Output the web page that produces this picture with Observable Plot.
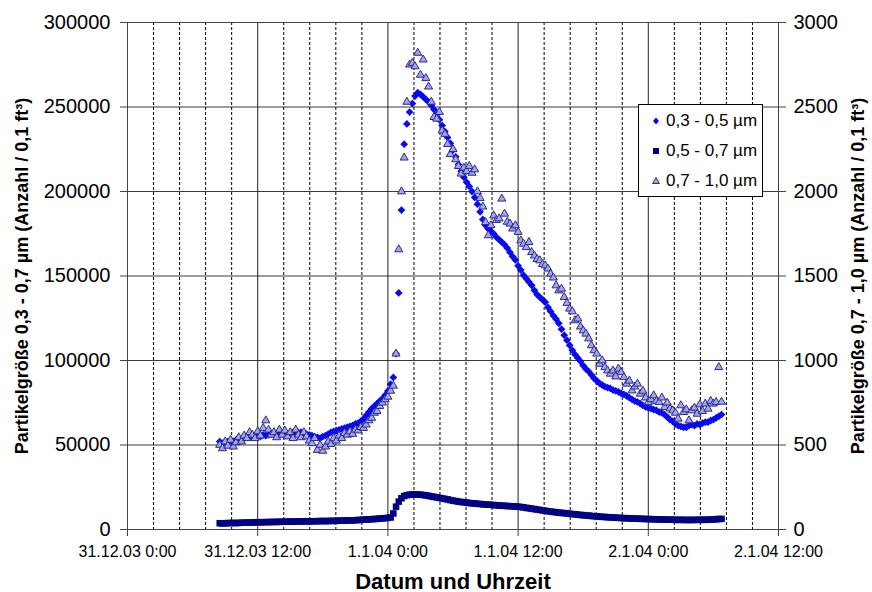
<!DOCTYPE html>
<html>
<head>
<meta charset="utf-8">
<script src="https://cdn.jsdelivr.net/npm/d3@7"></script>
<script src="https://cdn.jsdelivr.net/npm/@observablehq/plot@0.6"></script>
<style>
  html, body { margin: 0; padding: 0; background: #fff; }
  #wrap { position: relative; width: 872px; height: 592px; font-family: 'Liberation Sans', Arial, sans-serif; }
  #legend { position: absolute; left: 638px; top: 104px; width: 125px; height: 93px; border: 1px solid #000; background: #fff; box-sizing: border-box; }
  .item { position: absolute; left: 0; height: 20px; width: 124px; }
  .item svg { position: absolute; left: 10px; top: 3px; }
  .item span { position: absolute; left: 27px; top: 0; font-size: 17px; line-height: 20px; color: #000; white-space: nowrap; }
</style>
</head>
<body>
<div id="wrap"></div>
<script>
// ---- Data ----
// Measurements every 15 minutes, starting 31.12.03 8:30
const startTime = Date.UTC(2003, 11, 31, 8, 30);
const stepMinutes = 15;

const seriesNames = ["0,3 - 0,5 µm", "0,5 - 0,7 µm", "0,7 - 1,0 µm"];

// 0,3 - 0,5 µm (left axis)
const small = [
  52000, 51000, 51500, 52000,
  52500, 52000, 53000, 53500,
  53000, 54000, 54500, 55000,
  54500, 55500, 55500, 55000,
  56000, 55500, 56000, 56500,
  56000, 56500, 56000, 56500,
  57000, 56500, 57000, 57500,
  57000, 57500, 57500, 57000,
  56500, 56000, 55500, 55000,
  54500, 54000, 55000, 55500,
  56500, 57500, 58000, 58500,
  59000, 59500, 60000, 60500,
  61000, 61500, 62500, 63000,
  64000, 65500, 67500, 69500,
  71500, 73000, 74500, 76000,
  77500, 79500, 82000, 86000,
  90000, 104000, 140000, 189000,
  228000, 240000, 247000, 252000,
  256500, 258500, 257500, 256000,
  254500, 253000, 251000, 248500,
  245500, 242500, 239000, 235500,
  232000, 228500, 224500, 220500,
  216000, 212000, 208500, 205500,
  203000, 200000, 196500, 192500,
  188000, 183500, 180000, 178000,
  176500, 175000, 173000, 171500,
  170000, 168500, 166500, 164000,
  161500, 159500, 156000, 153500,
  150500, 148500, 146500, 144500,
  141500, 139000, 137500, 136000,
  134500, 131500, 129000, 126500,
  124500, 122000, 118500, 115000,
  112000, 109000, 106000, 103500,
  101500, 99500, 97000, 95000,
  93500, 91500, 89500, 88000,
  86500, 85500, 84500, 84000,
  83500, 82500, 82000, 81500,
  80500, 80000, 79000, 78000,
  77000, 76000, 75500, 74500,
  73500, 72500, 72000, 71500,
  71000, 70500, 69500, 69000,
  68000, 66500, 65000, 64000,
  62500, 61500, 61000, 60500,
  60500, 61500, 62000, 61500,
  62500, 62000, 63000, 63500,
  63500, 64500, 65000, 66000,
  67000, 68000
];

// 0,5 - 0,7 µm (left axis)
const medium = [
  3700, 3600, 3700, 3800,
  3800, 3900, 3800, 3900,
  4000, 4000, 4100, 4100,
  4200, 4200, 4300, 4300,
  4300, 4400, 4400, 4400,
  4500, 4500, 4500, 4600,
  4600, 4600, 4700, 4700,
  4700, 4800, 4800, 4800,
  4900, 4800, 4900, 4900,
  4900, 5000, 5000, 5000,
  5000, 5100, 5100, 5100,
  5200, 5200, 5300, 5300,
  5400, 5400, 5500, 5600,
  5700, 5800, 5900, 6000,
  6100, 6200, 6300, 6500,
  6600, 6700, 6900, 7100,
  9500, 13500, 16500, 18500,
  19800, 20300, 20600, 20700,
  20800, 20700, 20600, 20400,
  20200, 19900, 19600, 19300,
  19000, 18700, 18400, 18100,
  17800, 17400, 17100, 16800,
  16500, 16300, 16100, 15900,
  15700, 15500, 15400, 15200,
  15100, 14900, 14800, 14700,
  14600, 14500, 14300, 14200,
  14100, 14000, 13900, 13800,
  13700, 13600, 13500, 13300,
  13100, 12800, 12600, 12300,
  12100, 11800, 11600, 11300,
  11100, 10800, 10600, 10400,
  10200, 10000, 9800, 9700,
  9500, 9300, 9100, 9000,
  8800, 8600, 8500, 8300,
  8200, 8000, 7900, 7800,
  7600, 7500, 7400, 7300,
  7200, 7100, 7000, 6900,
  6800, 6700, 6700, 6600,
  6500, 6500, 6400, 6300,
  6300, 6200, 6200, 6100,
  6100, 6000, 6000, 5900,
  5900, 5800, 5800, 5800,
  5700, 5700, 5700, 5700,
  5600, 5700, 5600, 5700,
  5700, 5700, 5800, 5700,
  5800, 5900, 5900, 6100,
  6200, 6300
];

// 0,7 - 1,0 µm (right axis)
const large = [
  500, 480, 520, 495,
  530, 490, 515, 545,
  520, 555, 540, 575,
  560, 540, 580, 555,
  600, 645, 590, 560,
  575, 545, 590, 560,
  585, 550, 575, 540,
  590, 560, 545, 575,
  550, 525, 510, 540,
  470, 500, 465, 490,
  520, 505, 540, 525,
  555, 540, 570, 560,
  580, 565, 590, 585,
  605, 600, 620, 645,
  660, 690, 700, 730,
  750, 770, 785, 820,
  850, 1040, 1657, 2000,
  2200, 2530, 2750, 2760,
  2740, 2820, 2690, 2780,
  2670, 2620, 2530, 2440,
  2430, 2470, 2360, 2340,
  2280, 2220, 2250, 2190,
  2150, 2105, 2140, 2120,
  2150, 2110, 2130, 2000,
  1960, 1910, 1818, 1740,
  1800, 1858, 1830, 1840,
  1957, 1868, 1820, 1809,
  1780, 1799, 1760, 1710,
  1690, 1670, 1700, 1641,
  1620, 1600, 1592, 1570,
  1562, 1543, 1513, 1490,
  1444, 1414, 1424, 1375,
  1340, 1306, 1290, 1237,
  1247, 1200, 1177, 1158,
  1130, 1089, 1060, 1040,
  980, 1000, 960, 940,
  921, 940, 905, 951,
  930, 901, 862, 880,
  822, 845, 862, 803,
  820, 780, 753, 770,
  793, 760, 753, 780,
  724, 750, 715, 704,
  690, 655, 734, 694,
  710, 645, 704, 720,
  684, 740, 700, 744,
  714, 760, 744, 753,
  960, 755
];

// Axes
const xStart = new Date(Date.UTC(2003, 11, 31, 0, 0));
const xEnd = new Date(Date.UTC(2004, 0, 2, 12, 0));
const xTicks = [
  new Date(Date.UTC(2003, 11, 31, 0)), new Date(Date.UTC(2003, 11, 31, 12)),
  new Date(Date.UTC(2004, 0, 1, 0)), new Date(Date.UTC(2004, 0, 1, 12)),
  new Date(Date.UTC(2004, 0, 2, 0)), new Date(Date.UTC(2004, 0, 2, 12))
];
const xTickLabels = ["31.12.03 0:00", "31.12.03 12:00", "1.1.04 0:00", "1.1.04 12:00", "2.1.04 0:00", "2.1.04 12:00"];
const leftTicks = [0, 50000, 100000, 150000, 200000, 250000, 300000];
const rightTicks = [0, 500, 1000, 1500, 2000, 2500, 3000];
const rightFactor = 100; // right axis 0–3000 sits on left 0–300000

const xTitle = "Datum und Uhrzeit";
const yLeftTitle = "Partikelgröße 0,3 - 0,7 µm (Anzahl / 0,1 ft³)";
const yRightTitle = "Partikelgröße 0,7 - 1,0 µm (Anzahl / 0,1 ft³)";

// ---- Build ----
const toRows = arr => arr.map((v, i) => ({t: new Date(startTime + i * stepMinutes * 60000), v}));
const dataA = toRows(small), dataB = toRows(medium), dataC = toRows(large);

// minor (dashed) grid: Excel-style 5 subdivisions of each 12 h
const minorGrid = d3.range(1, 25).filter(k => k % 5 !== 0)
  .map(k => new Date(+xStart + k * 2.4 * 3600e3));

const chart = Plot.plot({
  width: 872, height: 592,
  marginLeft: 127, marginRight: 94, marginTop: 22, marginBottom: 63,
  style: {fontFamily: "'Liberation Sans', Arial, sans-serif", background: "white", color: "#000", overflow: "visible"},
  x: {type: "utc", domain: [xStart, xEnd]},
  y: {domain: [0, 300000]},
  marks: [
    Plot.gridY(leftTicks, {stroke: "#3a3a3a", strokeOpacity: 1}),
    Plot.ruleX(minorGrid, {stroke: "#000", strokeDasharray: "3,2"}),
    Plot.ruleX(xTicks, {stroke: "#222"}),
    Plot.frame({stroke: "#444"}),
    Plot.axisY(leftTicks, {tickSize: 7, tickPadding: 10, fontSize: 20, tickFormat: d => String(d), label: null, stroke: "#444"}),
    Plot.axisY(rightTicks.map(v => v * rightFactor), {anchor: "right", tickSize: 7, tickPadding: 8, fontSize: 20, tickFormat: d => String(d / rightFactor), label: null, stroke: "#444"}),
    Plot.axisX(xTicks, {tickSize: 7, tickPadding: 9, fontSize: 16, tickFormat: d => xTickLabels[xTicks.findIndex(t => +t === +d)], label: null, stroke: "#444"}),
    Plot.dot(dataA, {x: "t", y: "v", symbol: "diamond2", r: 3.5, fill: "#0a0af0", stroke: null}),
    Plot.dot(dataB, {x: "t", y: "v", symbol: "square", r: 3.7, fill: "#000080", stroke: null}),
    Plot.dot(dataC, {x: "t", y: d => d.v * rightFactor, symbol: "triangle", r: 3.0, fill: "#a3a3ea", stroke: "#2b2b8c", strokeWidth: 1}),
    Plot.text([yLeftTitle], {text: d => d, frameAnchor: "left", dx: -105, rotate: -90, fontSize: 18, fontWeight: "bold", textAnchor: "middle", lineAnchor: "middle", fill: "#000"}),
    Plot.text([yRightTitle], {text: d => d, frameAnchor: "right", dx: 80, rotate: -90, fontSize: 18, fontWeight: "bold", textAnchor: "middle", lineAnchor: "middle", fill: "#000"}),
    Plot.text([xTitle], {text: d => d, frameAnchor: "bottom", dy: 52, fontSize: 22, fontWeight: "bold", textAnchor: "middle", lineAnchor: "middle", fill: "#000"})
  ]
});

const wrap = document.getElementById("wrap");
wrap.appendChild(chart);

// legend
const legend = document.createElement("div");
legend.id = "legend";
const glyphs = [
  '<svg width="14" height="14"><path d="M7,3.5L10,7L7,10.5L4,7Z" fill="#0a0af0"/></svg>',
  '<svg width="14" height="14"><rect x="4" y="4" width="6" height="6" fill="#000080"/></svg>',
  '<svg width="14" height="14"><path d="M7,3.5L10.5,9.5L3.5,9.5Z" fill="#a3a3ea" stroke="#2b2b8c" stroke-width="1"/></svg>'
];
seriesNames.forEach((name, i) => {
  const it = document.createElement("div");
  it.className = "item";
  it.style.top = (6 + i * 30) + "px";
  it.innerHTML = glyphs[i] + "<span>" + name + "</span>";
  legend.appendChild(it);
});
wrap.appendChild(legend);
</script>
</body>
</html>
